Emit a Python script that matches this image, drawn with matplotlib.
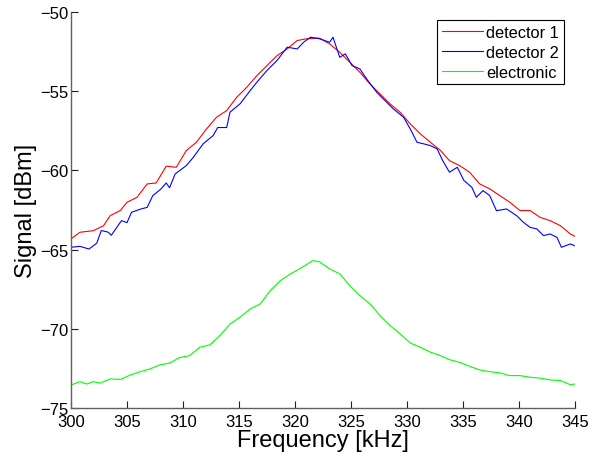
import matplotlib
matplotlib.use('Agg')
import matplotlib.pyplot as plt

plt.rcParams['font.family'] = ['Liberation Sans', 'DejaVu Sans']

# values
freq_red = [300.0, 300.8, 302.0, 302.9, 303.5, 304.4, 305.0, 305.9, 306.8, 307.6,
            308.5, 309.4, 310.3, 311.2, 312.1, 313.0, 313.9, 314.8, 315.7, 316.6,
            317.5, 318.4, 319.3, 320.2, 321.0, 321.9, 322.2, 323.1, 324.0, 324.9,
            325.8, 326.7, 327.6, 328.5, 329.4, 330.3, 331.2, 332.1, 333.0, 333.8,
            334.7, 335.6, 336.5, 337.4, 338.3, 339.2, 340.1, 341.0, 341.9, 342.8,
            343.7, 344.6, 345.0]
det1 = [-64.33, -63.91, -63.81, -63.50, -62.86, -62.54, -62.02, -61.70, -60.86, -60.80,
        -59.74, -59.81, -58.75, -58.23, -57.39, -56.65, -56.23, -55.39, -54.76, -54.02,
        -53.39, -52.76, -52.34, -51.81, -51.70, -51.66, -51.66, -52.02, -52.55, -53.18,
        -53.81, -54.55, -55.18, -55.81, -56.34, -57.07, -57.70, -58.23, -58.75, -59.39,
        -59.70, -60.12, -60.86, -61.17, -61.60, -62.02, -62.54, -62.54, -62.97, -63.18,
        -63.49, -64.02, -64.16]

freq_blue = [300.0, 300.8, 301.6, 302.3, 302.7, 303.3, 303.6, 304.5, 305.0, 305.4,
             306.2, 306.8, 307.3, 308.0, 308.5, 308.8, 309.3, 310.3, 310.9, 311.8,
             312.7, 313.1, 313.9, 314.2, 315.1, 316.0, 316.6, 317.5, 318.4, 319.3,
             320.2, 320.8, 321.4, 322.2, 323.1, 323.4, 324.0, 324.5, 325.1, 325.8,
             326.4, 327.3, 327.9, 328.8, 329.7, 330.3, 330.9, 331.5, 332.1, 332.7,
             333.2, 333.8, 334.5, 335.1, 335.8, 336.2, 336.8, 337.4, 338.0, 338.9,
             339.8, 340.4, 341.0, 341.6, 342.2, 342.8, 343.4, 343.8, 344.6, 345.0]
det2 = [-64.86, -64.80, -64.97, -64.60, -63.80, -63.90, -64.10, -63.18, -63.30, -62.65,
        -62.45, -62.34, -61.60, -61.20, -60.80, -61.10, -60.23, -59.70, -59.20, -58.33,
        -57.80, -57.30, -57.30, -56.33, -55.80, -54.97, -54.44, -53.70, -53.07, -52.23,
        -52.34, -51.90, -51.60, -51.70, -51.92, -51.60, -52.87, -52.65, -53.39, -53.60,
        -54.23, -55.07, -55.50, -56.13, -56.65, -57.39, -58.23, -58.33, -58.44, -58.65,
        -59.39, -60.12, -59.81, -60.65, -61.07, -61.70, -61.28, -61.60, -62.55, -62.44,
        -62.86, -63.28, -63.60, -63.70, -64.12, -64.02, -64.23, -64.86, -64.65, -64.76]

freq_green = [300.0, 300.8, 301.4, 302.0, 302.6, 303.5, 304.4, 305.3, 306.2, 307.0,
              307.9, 308.8, 309.7, 310.6, 311.5, 312.4, 313.3, 314.2, 315.1, 316.0,
              316.9, 317.8, 318.7, 319.6, 320.5, 321.6, 322.2, 323.1, 324.0, 324.9,
              325.8, 326.7, 327.6, 328.5, 329.4, 330.3, 331.2, 332.1, 333.0, 333.8,
              334.7, 335.6, 336.5, 337.4, 338.3, 339.2, 340.1, 341.0, 341.9, 342.8,
              343.7, 344.6, 345.0]
electronic = [-73.55, -73.34, -73.49, -73.34, -73.43, -73.17, -73.20, -72.92, -72.71, -72.55,
              -72.29, -72.17, -71.82, -71.70, -71.17, -71.02, -70.43, -69.70, -69.27, -68.75,
              -68.43, -67.59, -66.96, -66.54, -66.18, -65.70, -65.78, -66.22, -66.54, -67.28,
              -67.91, -68.43, -69.17, -69.80, -70.33, -70.90, -71.17, -71.48, -71.70, -71.95,
              -72.12, -72.37, -72.60, -72.71, -72.79, -72.96, -72.96, -73.06, -73.12, -73.23,
              -73.27, -73.53, -73.49]

fig = plt.figure(figsize=(5.92, 4.60), dpi=100)
ax = fig.add_axes([0.12, 0.111, 0.851, 0.861])

ax.plot(freq_red, det1, color='#ff0000', lw=0.8, label='detector 1')
ax.plot(freq_blue, det2, color='#0000ff', lw=0.8, label='detector 2')
ax.plot(freq_green, electronic, color='#00ff00', lw=0.8, label='electronic')

ax.set_xlim(300, 345)
ax.set_ylim(-75, -50)
ax.set_xticks(range(300, 346, 5))
ax.set_yticks(range(-75, -49, 5))
ax.set_yticklabels(['\u221275', '\u221270', '\u221265', '\u221260', '\u221255', '\u221250'])

for side in ['top', 'right']:
    ax.spines[side].set_visible(False)
for side in ['left', 'bottom']:
    ax.spines[side].set_color('#606060')
    ax.spines[side].set_linewidth(1.0)
ax.tick_params(direction='in', length=5, width=0.8, color='#202020', labelsize=12)
ax.tick_params(axis='x', pad=4.5)
ax.tick_params(axis='y', pad=2)

ax.set_xlabel('Frequency [kHz]', fontsize=17, labelpad=0)
ax.set_ylabel('Signal [dBm]', fontsize=17, labelpad=2)

leg = ax.legend(loc='upper right', bbox_to_anchor=(0.978, 0.98), fontsize=11.8,
                fancybox=False, framealpha=1, edgecolor='black',
                handlelength=2.5, handletextpad=0.2, labelspacing=0.3,
                borderpad=0.3, borderaxespad=0)
leg.get_frame().set_linewidth(0.8)

fig.savefig('out.png', dpi=100)
